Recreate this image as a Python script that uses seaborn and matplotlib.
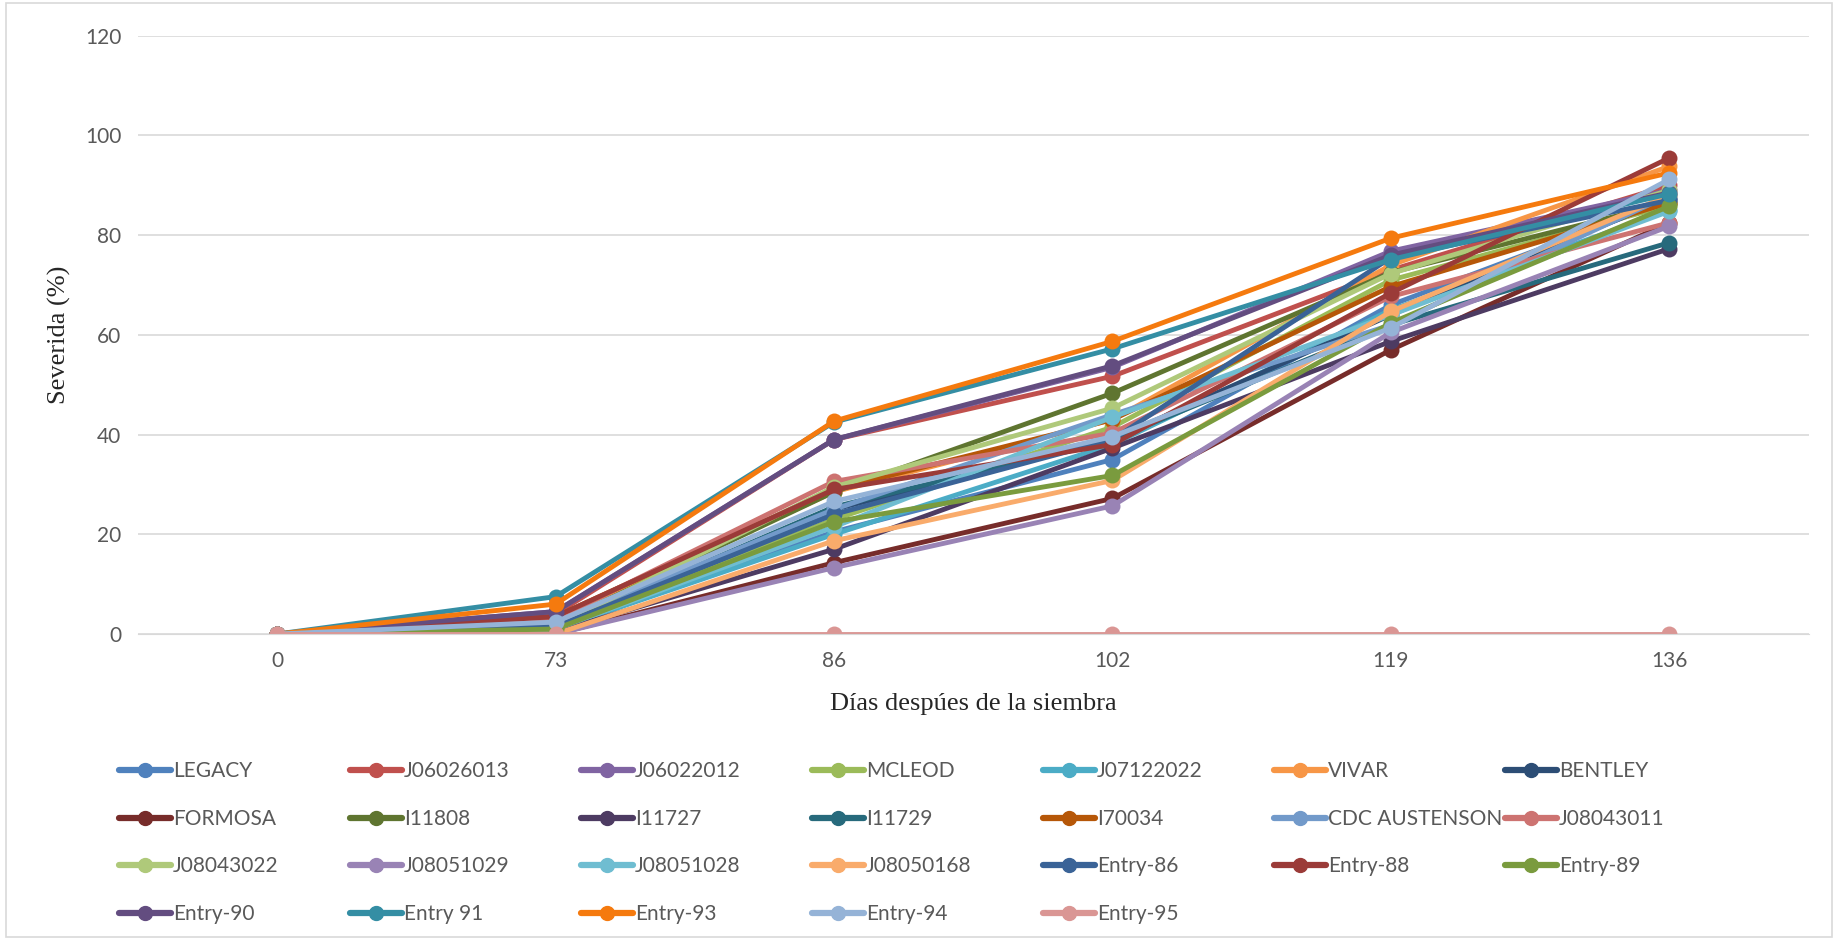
import pandas as pd
import matplotlib.pyplot as plt
import seaborn as sns
from matplotlib.lines import Line2D
from matplotlib.patches import Rectangle

# days after sowing (categorical axis)
days = ['0', '73', '86', '102', '119', '136']

names = ['LEGACY', 'J06026013', 'J06022012', 'MCLEOD', 'J07122022', 'VIVAR', 'BENTLEY',
         'FORMOSA', 'I11808', 'I11727', 'I11729', 'I70034', 'CDC AUSTENSON', 'J08043011',
         'J08043022', 'J08051029', 'J08051028', 'J08050168', 'Entry-86', 'Entry-88', 'Entry-89',
         'Entry-90', 'Entry 91', 'Entry-93', 'Entry-94', 'Entry-95']

colors = ['#4F81BD', '#C0504D', '#8064A2', '#9BBB59', '#4BACC6', '#F79646', '#2C4D75',
          '#772C2A', '#5F7530', '#4D3B62', '#276A7C', '#B65708', '#729ACA', '#CD7371',
          '#AFC97A', '#9983B5', '#6FBDD1', '#F9AB6B', '#3A6397', '#9B3B38', '#7A9B3E',
          '#634D80', '#348EA4', '#F57A0E', '#95B3D7', '#DA9694']

# severity (%) per entry
legacy = [0, 1, 20.5, 35, 66, 87]
j06026013 = [0, 4, 39, 51.7, 73, 90]
j06022012 = [0, 4.5, 39, 53.5, 76.8, 89]
mcleod = [0, 1, 23, 41.5, 71, 86]
j07122022 = [0, 1, 20, 38, 65, 85]
vivar = [0, 3, 28.5, 43, 74, 93.8]
bentley = [0, 1.5, 25, 39, 64, 87.5]
formosa = [0, 0, 14.3, 27.2, 57, 82.5]
i11808 = [0, 2, 28.5, 48.3, 72.5, 86.5]
i11727 = [0, 0.5, 17, 37.3, 58.7, 77.3]
i11729 = [0, 1.5, 25.5, 39, 62, 78.5]
i70034 = [0, 3.5, 29, 43, 69.7, 86.5]
cdc_austenson = [0, 2, 25, 44, 62, 88]
j08043011 = [0, 3, 30.6, 40.3, 67.7, 82.5]
j08043022 = [0, 1.5, 29.5, 45.3, 72.3, 89]
j08051029 = [0, 0, 13.3, 25.7, 60.5, 81.8]
j08051028 = [0, 1, 21.5, 43.5, 64, 84.8]
j08050168 = [0, 0, 18.7, 30.8, 64.7, 88]
entry_86 = [0, 1.5, 24, 39, 75.5, 87]
entry_88 = [0, 3.5, 29, 38, 68.4, 95.5]
entry_89 = [0, 1, 22.5, 31.8, 62.4, 85.8]
entry_90 = [0, 4.5, 39, 53.8, 76, 88.5]
entry_91 = [0, 7.5, 42.5, 57.2, 75.1, 88.3]
entry_93 = [0, 6, 42.7, 58.7, 79.4, 92.5]
entry_94 = [0, 2.4, 26.6, 39.6, 61.4, 91.2]
entry_95 = [0, 0, 0, 0, 0, 0]

values = [legacy, j06026013, j06022012, mcleod, j07122022, vivar, bentley,
          formosa, i11808, i11727, i11729, i70034, cdc_austenson, j08043011,
          j08043022, j08051029, j08051028, j08050168, entry_86, entry_88, entry_89,
          entry_90, entry_91, entry_93, entry_94, entry_95]

rows = []
for name, vals in zip(names, values):
    for d, v in zip(days, vals):
        rows.append({'Dia': d, 'Severidad': v, 'Entrada': name})
df = pd.DataFrame(rows)

sns.set_style('white')
plt.rcParams['font.family'] = ['Lato', 'DejaVu Sans']

fig = plt.figure(figsize=(18.38, 9.4), dpi=100)
ax = fig.add_axes([0.075, 0.3255, 0.909, 0.6365])

palette = dict(zip(names, colors))
sns.lineplot(data=df, x='Dia', y='Severidad', hue='Entrada', hue_order=names,
             palette=palette, marker='o', markersize=11.5, markeredgewidth=0,
             linewidth=3.5, sort=False, legend=False, ax=ax)

ax.set_xlim(-0.5, 5.5)
ax.set_ylim(0, 120)
ax.set_yticks(range(0, 121, 20))
ax.grid(axis='y', color='#D9D9D9', linewidth=1.2)
ax.set_axisbelow(True)
for side in ['top', 'right', 'left']:
    ax.spines[side].set_visible(False)
ax.spines['bottom'].set_color('#D9D9D9')
ax.tick_params(axis='both', length=0, labelsize=15, labelcolor='#595959', pad=12)

ax.set_xlabel('Días despúes de la siembra', family='Liberation Serif', fontsize=19, labelpad=16)
ax.set_ylabel('Severida (%)', family='Liberation Serif', fontsize=19, labelpad=10)

# legend: one column per call so every column has the same width, as in the original
ncol = 7
col_w = 231 / 1838
x0 = 119 / 1838
for c in range(ncol):
    idx = list(range(c, len(names), ncol))
    handles = [Line2D([0], [0], color=colors[i], linewidth=4.5, marker='o', markersize=10)
               for i in idx]
    fig.legend(handles, [names[i] for i in idx], loc='upper left',
               bbox_to_anchor=(x0 + c * col_w, 0.19), frameon=False, fontsize=15,
               handlelength=2.5, handletextpad=0.1, labelspacing=1.32,
               borderpad=0, borderaxespad=0, labelcolor='#595959')

fig.patches.append(Rectangle((0.003, 0.003), 0.994, 0.994, transform=fig.transFigure,
                             fill=False, edgecolor='#D9D9D9', linewidth=1.2))

fig.savefig('out.png', dpi=100)
